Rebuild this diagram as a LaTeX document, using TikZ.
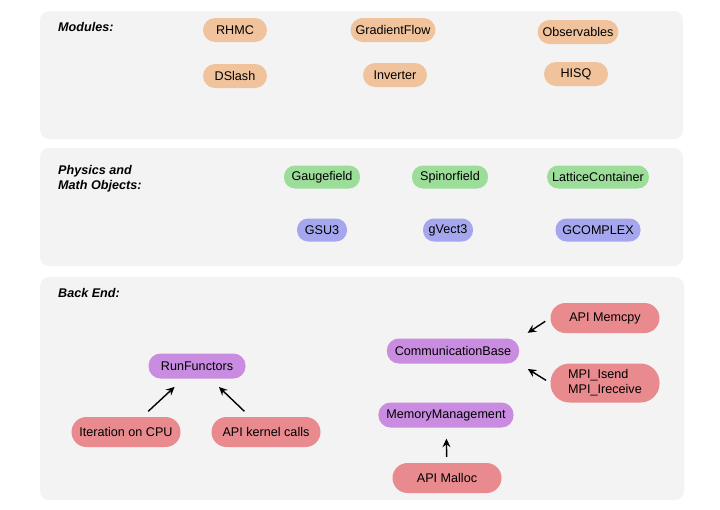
\documentclass[tikz,border=0pt]{standalone}
\usepackage{fontspec}
\setmainfont{Liberation Sans}
\usepackage{xcolor}
\definecolor{panelgray}{RGB}{243,243,243}
\definecolor{modpeach}{RGB}{240,195,157}
\definecolor{objgreen}{RGB}{156,221,154}
\definecolor{objblue}{RGB}{166,166,239}
\definecolor{bepurple}{RGB}{201,140,224}
\definecolor{bered}{RGB}{232,138,142}
\usetikzlibrary{arrows.meta,positioning}

\begin{document}
\begin{tikzpicture}[x=1pt,y=-1pt,font=\fontsize{12.6}{15}\selectfont,
  panel/.style={fill=panelgray,draw=none,rounded corners=9pt},
  sec/.style={anchor=west,align=left,inner sep=0pt,font=\fontsize{12.6}{15}\selectfont\bfseries\itshape},
  modbox/.style={fill=modpeach,rounded corners=12pt,minimum height=24pt,minimum width=64pt,inner xsep=5pt},
  fieldbox/.style={fill=objgreen,rounded corners=11pt,minimum height=23pt,inner xsep=5pt},
  typebox/.style={fill=objblue,rounded corners=11pt,minimum height=23pt,minimum width=50pt,inner xsep=5pt},
  corebox/.style={fill=bepurple,rounded corners=12pt,minimum height=25pt,inner xsep=8pt},
  apibox/.style={fill=bered,rounded corners=15pt,minimum height=30pt,minimum width=109pt},
  link/.style={-{Stealth[length=8.5pt,width=8pt,inset=3pt]},line width=1.4pt,shorten <=8pt,shorten >=12pt}]
  \useasboundingbox (0,0) rectangle (720,509);
  \draw[panel] (40,11) rectangle (683,139);
  \draw[panel] (40,148) rectangle (683,266);
  \draw[panel] (40,277) rectangle (684,500);
  \node[sec] (modlbl) at (58,27) {Modules:};
  \node[sec] (physlbl) at (58,179) {Physics and\\Math Objects:};
  \node[sec] (belbl) at (58,293) {Back End:};
  \node[modbox] (rhmc) at (235,30) {RHMC};
  \node[modbox] (gflow) at (393,30) {GradientFlow};
  \node[modbox] (obs) at (578,32) {Observables};
  \node[modbox] (dslash) at (235,76) {DSlash};
  \node[modbox] (inv) at (395,75) {Inverter};
  \node[modbox] (hisq) at (576,74) {HISQ};
  \node[fieldbox,minimum width=76pt] (gauge) at (322,177) {Gaugefield};
  \node[fieldbox,minimum width=76pt] (spinor) at (450,177) {Spinorfield};
  \node[fieldbox] (lattice) at (598,177) {LatticeContainer};
  \node[typebox] (gsu3) at (322,230) {GSU3};
  \node[typebox] (gvect) at (448,230) {gVect3};
  \node[typebox,minimum width=85pt] (gcomplex) at (598,230) {GCOMPLEX};
  \node[corebox,minimum width=97pt] (runf) at (197,366) {RunFunctors};
  \node[corebox] (comm) at (453,351) {CommunicationBase};
  \node[corebox] (memman) at (446,415) {MemoryManagement};
  \node[apibox] (cpu) at (126,432) {Iteration on CPU};
  \node[apibox] (kernel) at (266,432) {API kernel calls};
  \node[apibox] (memcpy) at (605,318) {API Memcpy};
  \node[apibox,align=left,minimum height=39pt,rounded corners=19pt] (mpi) at (605,383) {MPI\_Isend\\MPI\_Ireceive};
  \node[apibox] (malloc) at (447,478) {API Malloc};
  \draw[link] (cpu) -- (runf);
  \draw[link] (kernel) -- (runf);
  \draw[link,shorten <=6pt,shorten >=10pt] (memcpy.west) -- (comm.north east);
  \draw[link,shorten <=5pt,shorten >=10pt] (mpi.west) -- (comm.south east);
  \draw[link,shorten <=6pt,shorten >=11pt] (malloc) -- (memman);
\end{tikzpicture}
\end{document}
